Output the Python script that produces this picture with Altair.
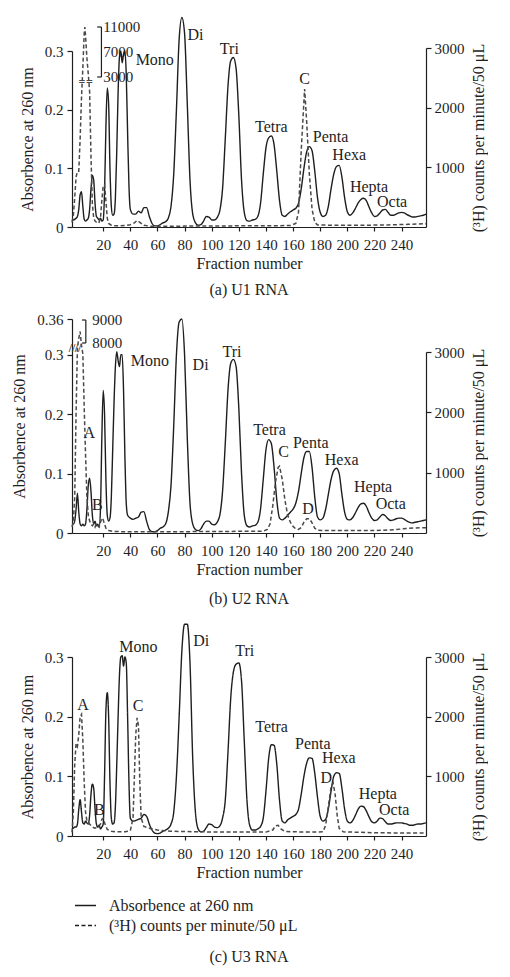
import altair as alt
import pandas as pd

SERIF = "Liberation Serif"
INK = "#1e1e1e"
DASH_INK = "#4a4a4a"
W, H = 354, 215

X_DOMAIN = [-3, 258]
X_TICKS = [20, 40, 60, 80, 100, 120, 140, 160, 180, 200, 220, 240]
LEFT_TICKS = [0, 0.1, 0.2, 0.3]
LEFT_TICKS_U2 = [0, 0.1, 0.2, 0.3, 0.36]
RIGHT_TICKS = [1000, 2000, 3000]

ABS_LABEL = "Absorbence at 260 nm"
CPM_LABEL = "(³H) counts per minute/50 μL"
X_TITLE = "Fraction number"
CAPTIONS = ["(a)  U1 RNA", "(b)  U2 RNA", "(c)  U3 RNA"]

# ---------------- U1 RNA ----------------
U1_ABS = [(-3, 0.012), (-2, 0.012), (-1, 0.013), (0, 0.015), (1, 0.018), (2, 0.03), (3, 0.055), (4, 0.06),
          (5, 0.035), (6, 0.013), (7, 0.01), (8, 0.012), (9, 0.015), (10, 0.03), (11, 0.065), (12, 0.088),
          (13, 0.08), (14, 0.04), (15, 0.018), (16, 0.015), (17, 0.012), (18, 0.015), (19, 0.01), (20, 0.012),
          (21, 0.06), (22, 0.17), (23, 0.237), (24, 0.21), (25, 0.1), (26, 0.035), (27, 0.02), (28, 0.022),
          (29, 0.05), (30, 0.13), (31, 0.23), (32, 0.29), (33, 0.3), (34, 0.28), (35, 0.295), (36, 0.3),
          (37, 0.26), (38, 0.16), (39, 0.07), (40, 0.03), (42, 0.022), (44, 0.022), (46, 0.027), (48, 0.024),
          (50, 0.033), (52, 0.033), (54, 0.018), (56, 0.006), (58, 0.002), (60, 0.002), (62, 0.004), (64, 0.007),
          (66, 0.009), (68, 0.015), (70, 0.035), (72, 0.09), (74, 0.2), (76, 0.32), (78, 0.357), (80, 0.33),
          (82, 0.21), (84, 0.08), (86, 0.022), (88, 0.007), (90, 0.003), (92, 0.004), (94, 0.01), (96, 0.018),
          (98, 0.017), (100, 0.012), (102, 0.012), (104, 0.016), (106, 0.028), (108, 0.065), (110, 0.15),
          (112, 0.24), (114, 0.283), (116, 0.289), (118, 0.27), (120, 0.19), (122, 0.08), (124, 0.025),
          (126, 0.011), (128, 0.01), (130, 0.012), (132, 0.013), (134, 0.018), (136, 0.04), (138, 0.09),
          (140, 0.135), (142, 0.152), (144, 0.155), (146, 0.14), (148, 0.095), (150, 0.045), (152, 0.02),
          (154, 0.018), (156, 0.022), (158, 0.026), (160, 0.029), (162, 0.032), (164, 0.04), (166, 0.065),
          (168, 0.1), (170, 0.128), (172, 0.137), (174, 0.13), (176, 0.095), (178, 0.05), (180, 0.025),
          (182, 0.018), (184, 0.02), (186, 0.035), (188, 0.065), (190, 0.09), (192, 0.103), (194, 0.105),
          (196, 0.085), (198, 0.05), (200, 0.026), (202, 0.02), (204, 0.024), (206, 0.032), (208, 0.041),
          (210, 0.047), (212, 0.049), (214, 0.045), (216, 0.034), (218, 0.024), (220, 0.018), (222, 0.019),
          (224, 0.024), (226, 0.029), (228, 0.03), (230, 0.025), (232, 0.02), (234, 0.02), (236, 0.022),
          (238, 0.024), (240, 0.025), (242, 0.024), (244, 0.021), (246, 0.019), (248, 0.017), (250, 0.017),
          (252, 0.018), (254, 0.019), (256, 0.02), (258, 0.022)]
U1_CPM = [(-3, 80), (-2, 200), (-1, 500), (0, 850), (1, 950), (2, 950), (3, 1500), (4, 2200), (5, 4500),
          (6, 10000), (6.5, 11000), (7, 9500), (8, 6000), (9, 3500), (10, 2300), (11, 1200), (12, 400),
          (13, 150), (14, 100), (15, 80), (16, 60), (17, 80), (18, 150), (19, 450), (20, 700), (21, 720),
          (22, 450), (23, 150), (24, 60), (26, 30), (28, 20), (32, 20), (36, 25), (40, 40), (43, 70),
          (45, 110), (47, 80), (50, 30), (54, 15), (60, 10), (80, 15), (100, 15), (120, 20), (140, 20),
          (158, 25), (162, 60), (164, 250), (166, 1300), (168.5, 2350), (170, 1800), (172, 900), (174, 300),
          (176, 80), (178, 35), (190, 30), (210, 30), (230, 35), (245, 45), (258, 55)]
U1_PEAKS = [("Mono", 58, 0.284), ("Di", 88, 0.327), ("Tri", 113, 0.304), ("Tetra", 144, 0.171),
            ("C", 168.5, 0.252), ("Penta", 187.6, 0.154), ("Hexa", 201.4, 0.123), ("Hepta", 216, 0.069),
            ("Octa", 233, 0.043)]
U1_BRACKET = {"line_f": 18.7, "tick_f": 15.6, "lo": 3000, "hi": 11000, "label_f": 20,
              "labels": [("11000", 11000), ("7000", 7000), ("3000", 3000)]}
U1_BREAKS = [("=", 4.4, 2700), ("=", 9.9, 2700)]

# ---------------- U2 RNA ----------------
U2_ABS = [(-3, 0.015), (-2, 0.015), (-1, 0.02), (0, 0.04), (1, 0.067), (2, 0.035), (3, 0.015), (4, 0.012),
          (5, 0.015), (6, 0.012), (7, 0.015), (8, 0.04), (9, 0.08), (10, 0.092), (11, 0.07), (12, 0.03),
          (13, 0.015), (14, 0.02), (15, 0.012), (16, 0.015), (17, 0.01), (18, 0.04), (19, 0.16), (20, 0.24),
          (21, 0.2), (22, 0.09), (23, 0.03), (24, 0.02), (25, 0.025), (26, 0.06), (27, 0.14), (28, 0.22),
          (29, 0.28), (30, 0.305), (31, 0.29), (32, 0.28), (33, 0.3), (34, 0.3), (35, 0.24), (36, 0.13),
          (37, 0.05), (38, 0.03), (40, 0.025), (42, 0.023), (44, 0.025), (46, 0.027), (48, 0.035), (50, 0.036),
          (52, 0.02), (54, 0.006), (56, 0.002), (58, 0.002), (60, 0.004), (62, 0.008), (64, 0.01), (66, 0.015),
          (68, 0.035), (70, 0.08), (72, 0.18), (74, 0.3), (76, 0.355), (78, 0.36), (80, 0.3), (82, 0.16),
          (84, 0.05), (86, 0.015), (88, 0.006), (90, 0.004), (92, 0.007), (94, 0.015), (96, 0.02), (98, 0.02),
          (100, 0.015), (102, 0.014), (104, 0.018), (106, 0.03), (108, 0.07), (110, 0.15), (112, 0.24),
          (114, 0.285), (116, 0.292), (118, 0.28), (120, 0.21), (122, 0.1), (124, 0.03), (126, 0.012),
          (128, 0.01), (130, 0.012), (132, 0.013), (134, 0.018), (136, 0.04), (138, 0.09), (140, 0.14),
          (142, 0.157), (144, 0.15), (146, 0.11), (148, 0.055), (150, 0.025), (152, 0.022), (154, 0.025),
          (156, 0.03), (158, 0.035), (160, 0.04), (162, 0.05), (164, 0.07), (166, 0.1), (168, 0.127),
          (170, 0.137), (172, 0.137), (174, 0.11), (176, 0.06), (178, 0.027), (180, 0.022), (182, 0.025),
          (184, 0.04), (186, 0.065), (188, 0.09), (190, 0.105), (192, 0.109), (194, 0.1), (196, 0.065),
          (198, 0.035), (200, 0.023), (202, 0.022), (204, 0.026), (206, 0.034), (208, 0.043), (210, 0.049),
          (212, 0.05), (214, 0.045), (216, 0.034), (218, 0.025), (220, 0.021), (222, 0.022), (224, 0.027),
          (226, 0.031), (228, 0.029), (230, 0.024), (232, 0.021), (234, 0.022), (236, 0.024), (238, 0.025),
          (240, 0.025), (242, 0.023), (244, 0.02), (246, 0.018), (248, 0.017), (250, 0.018), (252, 0.019),
          (254, 0.02), (256, 0.021), (258, 0.022)]
U2_CPM = [(-3, 100), (-2, 200), (-1, 600), (0, 2000), (1, 5000), (2, 8200), (3, 8500), (4, 6500), (5, 3000),
          (6, 2100), (7, 1300), (8, 600), (9, 300), (10, 200), (11, 150), (12, 120), (13, 150), (14, 100),
          (15, 160), (16, 120), (17, 100), (18, 180), (19, 250), (20, 220), (21, 150), (22, 80), (24, 40),
          (28, 25), (40, 20), (60, 20), (100, 25), (138, 30), (141, 60), (143, 150), (145, 450), (147, 850),
          (149, 1100), (150, 1120), (152, 900), (154, 550), (156, 300), (158, 180), (160, 110), (162, 70),
          (164, 60), (166, 90), (168, 180), (170, 240), (172, 240), (174, 170), (176, 80), (178, 45),
          (190, 40), (220, 40), (235, 55), (245, 80), (258, 90)]
U2_PEAKS = [("A", 9.8, 0.168), ("B", 15.7, 0.047), ("Mono", 54.4, 0.289), ("Di", 91.8, 0.283),
            ("Tri", 115, 0.305), ("Tetra", 142.6, 0.174), ("C", 153, 0.136), ("Penta", 173, 0.151),
            ("Hexa", 195.8, 0.123), ("Hepta", 219, 0.078), ("Octa", 232, 0.049), ("D", 171, 0.041)]
U2_BRACKET = {"line_f": 7.2, "tick_f": 4.4, "lo": 8000, "hi": 9000, "label_f": 12,
              "labels": [("9000", 9000), ("8000", 8000)]}
U2_BREAKS = [("//", -3, 5000), ("//", 1.5, 5000)]

# ---------------- U3 RNA ----------------
U3_ABS = [(-3, 0.012), (-2, 0.013), (-1, 0.015), (0, 0.015), (1, 0.02), (2, 0.045), (3, 0.061), (4, 0.04),
          (5, 0.022), (6, 0.02), (7, 0.025), (8, 0.022), (9, 0.02), (10, 0.035), (11, 0.07), (12, 0.087),
          (13, 0.08), (14, 0.045), (15, 0.02), (16, 0.015), (17, 0.018), (18, 0.012), (19, 0.015), (20, 0.02),
          (21, 0.1), (22, 0.21), (23, 0.24), (24, 0.2), (25, 0.09), (26, 0.03), (27, 0.02), (28, 0.022),
          (29, 0.05), (30, 0.12), (31, 0.2), (32, 0.27), (33, 0.3), (34, 0.302), (35, 0.285), (36, 0.3),
          (37, 0.29), (38, 0.2), (39, 0.09), (40, 0.03), (42, 0.025), (44, 0.026), (46, 0.028), (48, 0.03),
          (50, 0.036), (52, 0.033), (54, 0.02), (56, 0.01), (58, 0.005), (60, 0.004), (62, 0.005), (64, 0.008),
          (66, 0.01), (68, 0.013), (70, 0.02), (72, 0.04), (74, 0.1), (76, 0.2), (78, 0.31), (80, 0.355),
          (82, 0.355), (84, 0.29), (86, 0.13), (88, 0.04), (90, 0.012), (92, 0.007), (94, 0.008), (96, 0.014),
          (98, 0.02), (100, 0.019), (102, 0.015), (104, 0.014), (106, 0.017), (108, 0.03), (110, 0.06),
          (112, 0.14), (114, 0.23), (116, 0.275), (118, 0.288), (120, 0.29), (122, 0.26), (124, 0.16),
          (126, 0.06), (128, 0.018), (130, 0.01), (132, 0.01), (134, 0.012), (136, 0.016), (138, 0.03),
          (140, 0.075), (142, 0.13), (144, 0.153), (146, 0.152), (148, 0.12), (150, 0.06), (152, 0.025),
          (154, 0.022), (156, 0.027), (158, 0.03), (160, 0.033), (162, 0.036), (164, 0.045), (166, 0.07),
          (168, 0.1), (170, 0.122), (172, 0.131), (174, 0.13), (176, 0.105), (178, 0.065), (180, 0.033),
          (182, 0.025), (184, 0.028), (186, 0.045), (188, 0.075), (190, 0.1), (192, 0.106), (194, 0.105),
          (196, 0.08), (198, 0.045), (200, 0.025), (202, 0.022), (204, 0.026), (206, 0.035), (208, 0.045),
          (210, 0.05), (212, 0.049), (214, 0.042), (216, 0.032), (218, 0.024), (220, 0.022), (222, 0.025),
          (224, 0.03), (226, 0.029), (228, 0.024), (230, 0.02), (232, 0.02), (234, 0.021), (236, 0.022),
          (238, 0.022), (240, 0.022), (242, 0.021), (244, 0.02), (246, 0.018), (248, 0.018), (250, 0.019),
          (252, 0.02), (254, 0.02), (256, 0.021), (258, 0.022)]
U3_CPM = [(-3, 60), (-2, 400), (-1, 1200), (0, 1550), (1, 1500), (2, 1700), (3, 2000), (4, 2040), (5, 1600),
          (6, 900), (7, 400), (8, 250), (9, 220), (10, 200), (12, 150), (14, 130), (16, 150), (18, 200),
          (19, 280), (20, 300), (21, 220), (23, 110), (26, 80), (30, 70), (36, 70), (40, 90), (42, 300),
          (43, 1000), (44, 1700), (45, 1980), (46, 1850), (47, 900), (48, 300), (50, 160), (54, 130),
          (60, 100), (70, 80), (90, 70), (120, 65), (140, 65), (145, 100), (147, 170), (149, 180), (151, 120),
          (154, 75), (170, 65), (182, 70), (184, 180), (186, 500), (188, 820), (189.5, 890), (191, 700),
          (192.5, 350), (194, 130), (197, 70), (220, 55), (240, 50), (258, 50)]
U3_PEAKS = [("A", 5.2, 0.22), ("B", 17.2, 0.043), ("Mono", 46, 0.317), ("C", 45.7, 0.218), ("Di", 92.3, 0.326),
            ("Tri", 124.4, 0.31), ("Tetra", 144.2, 0.182), ("Penta", 174.5, 0.155), ("Hexa", 193.7, 0.131),
            ("D", 184.5, 0.097), ("Hepta", 222.5, 0.071), ("Octa", 234.5, 0.043)]

# scale options (pixel ranges of each panel's y scales)
U1_ABS_SCALE = dict(domain=[0, 0.3], range=[H, 39])
U1_RIGHT_SCALE = dict(domain=[0, 3000], range=[H, 36])
U1_CPM_SCALE = dict(domain=[0, 2400, 3000, 11000], range=[H, 74, 65, 15])

U2_ABS_SCALE = dict(domain=[0, 0.36], range=[H, 1])
U2_RIGHT_SCALE = dict(domain=[0, 3000], range=[H, 34])
U2_CPM_SCALE = dict(domain=[0, 3050, 8000, 9000], range=[H, 33, 25, 2])

U3_ABS_SCALE = dict(domain=[0, 0.3], range=[H, 36])
U3_RIGHT_SCALE = dict(domain=[0, 3000], range=[H, 36])

X_AXIS = alt.Axis(values=X_TICKS, format="d", title=X_TITLE, tickSize=4, labelPadding=6,
                  titlePadding=3, labelFlush=False, labelOverlap=False)


def xenc():
    return alt.X("f:Q", scale=alt.Scale(domain=X_DOMAIN, nice=False, zero=False), axis=X_AXIS)


def yenc(sc, axis=None):
    return alt.Y("v:Q", scale=alt.Scale(zero=False, nice=False, **sc), axis=axis)


def left_axis(vals):
    return alt.Axis(values=vals, format=".2~f", title=ABS_LABEL, tickSize=5, labelPadding=4, titlePadding=9,
                    labelOverlap=False)


RIGHT_AXIS = alt.Axis(orient="right", values=RIGHT_TICKS, format="d", title=CPM_LABEL, tickSize=5,
                      labelPadding=3, titlePadding=6, titleAngle=270, titleBaseline="top")

DASH_SCALE = alt.Scale(domain=[ABS_LABEL, CPM_LABEL], range=[[1, 0], [4, 2.5]])
LEGEND = alt.Legend(title=None, orient="none", legendX=2, legendY=273, direction="vertical",
                    symbolType="stroke", symbolSize=441, symbolStrokeWidth=1.3, symbolStrokeColor=INK,
                    labelFont=SERIF, labelFontSize=16, labelColor=INK, labelOffset=12, rowPadding=0,
                    padding=0, labelLimit=400)


def pairs_df(pairs, series):
    return pd.DataFrame({"f": [p[0] for p in pairs], "v": [p[1] for p in pairs], "s": series})


def panel(abs_pts, cpm_pts, abs_sc, right_sc, cpm_sc, left_vals, peaks, bracket, breaks, caption,
          cap_offset, legend):
    layers = []
    a_enc = dict(x=xenc(), y=yenc(abs_sc, left_axis(left_vals)))
    c_enc = dict(x=xenc(), y=yenc(cpm_sc, RIGHT_AXIS if cpm_sc is right_sc else None))
    a_mark = dict(color=INK, strokeWidth=1.4, interpolate="monotone")
    if legend:
        a_enc["strokeDash"] = alt.StrokeDash("s:N", scale=DASH_SCALE, legend=LEGEND)
        c_enc["strokeDash"] = alt.StrokeDash("s:N", scale=DASH_SCALE, legend=LEGEND)
        c_mark = dict(color=DASH_INK, strokeWidth=1.5)
    else:
        c_mark = dict(color=DASH_INK, strokeWidth=1.5, strokeDash=[4, 2.5])
    layers.append(alt.Chart(pairs_df(abs_pts, ABS_LABEL)).mark_line(**a_mark).encode(**a_enc))
    layers.append(alt.Chart(pairs_df(cpm_pts, CPM_LABEL)).mark_line(**c_mark).encode(**c_enc))
    if cpm_sc is not right_sc:
        holder = pd.DataFrame({"f": [X_DOMAIN[1]] * len(RIGHT_TICKS), "v": RIGHT_TICKS})
        layers.append(alt.Chart(holder).mark_point(opacity=0, size=1).encode(
            x=xenc(), y=yenc(right_sc, RIGHT_AXIS)))
    pk = pd.DataFrame({"t": [p[0] for p in peaks], "f": [p[1] for p in peaks], "v": [p[2] for p in peaks]})
    layers.append(alt.Chart(pk).mark_text(font=SERIF, fontSize=16, color=INK).encode(
        x=xenc(), y=yenc(abs_sc), text="t:N"))
    if bracket:
        vline = pd.DataFrame({"f": [bracket["line_f"]], "v": [bracket["lo"]], "v2": [bracket["hi"]]})
        layers.append(alt.Chart(vline).mark_rule(color=INK, strokeWidth=1.2).encode(
            x=xenc(), y=yenc(cpm_sc), y2="v2:Q"))
        ticks = pd.DataFrame({"f": [bracket["tick_f"]] * 2, "f2": [bracket["line_f"]] * 2,
                              "v": [bracket["lo"], bracket["hi"]]})
        layers.append(alt.Chart(ticks).mark_rule(color=INK, strokeWidth=1.2).encode(
            x=xenc(), x2="f2:Q", y=yenc(cpm_sc)))
        bl = pd.DataFrame({"t": [l[0] for l in bracket["labels"]], "v": [l[1] for l in bracket["labels"]],
                           "f": [bracket["label_f"]] * len(bracket["labels"])})
        layers.append(alt.Chart(bl).mark_text(font=SERIF, fontSize=15, color=INK, align="left").encode(
            x=xenc(), y=yenc(cpm_sc), text="t:N"))
    if breaks:
        bk = pd.DataFrame({"t": [b[0] for b in breaks], "f": [b[1] for b in breaks], "v": [b[2] for b in breaks]})
        layers.append(alt.Chart(bk).mark_text(font=SERIF, fontSize=12, fontWeight="bold", color=DASH_INK).encode(
            x=xenc(), y=yenc(cpm_sc), text="t:N"))
    return alt.layer(*layers).resolve_scale(y="independent").properties(
        width=W, height=H,
        title=alt.TitleParams(caption, orient="bottom", offset=cap_offset, font=SERIF, fontSize=16,
                              fontWeight="normal", color=INK))


p1 = panel(U1_ABS, U1_CPM, U1_ABS_SCALE, U1_RIGHT_SCALE, U1_CPM_SCALE, LEFT_TICKS, U1_PEAKS, U1_BRACKET,
           U1_BREAKS, CAPTIONS[0], 11, False)
p2 = panel(U2_ABS, U2_CPM, U2_ABS_SCALE, U2_RIGHT_SCALE, U2_CPM_SCALE, LEFT_TICKS_U2, U2_PEAKS, U2_BRACKET,
           U2_BREAKS, CAPTIONS[1], 14, False)
p3 = panel(U3_ABS, U3_CPM, U3_ABS_SCALE, U3_RIGHT_SCALE, U3_RIGHT_SCALE, LEFT_TICKS, U3_PEAKS, None,
           None, CAPTIONS[2], 15, True)

chart = alt.vconcat(p1, p2, p3, spacing=14).resolve_scale(strokeDash="independent").resolve_legend(
    strokeDash="independent").properties(
    padding={"left": 3, "top": 4, "right": 2, "bottom": 2}).configure_view(stroke=None).configure_axis(
    labelFont=SERIF, titleFont=SERIF, labelFontSize=15, titleFontSize=16, titleFontWeight="normal",
    labelColor=INK, titleColor=INK, domainColor=INK, tickColor=INK, grid=False, domainWidth=1.2,
    tickWidth=1.2)

chart.save("out.html", embed_options={"renderer": "svg", "actions": False})
